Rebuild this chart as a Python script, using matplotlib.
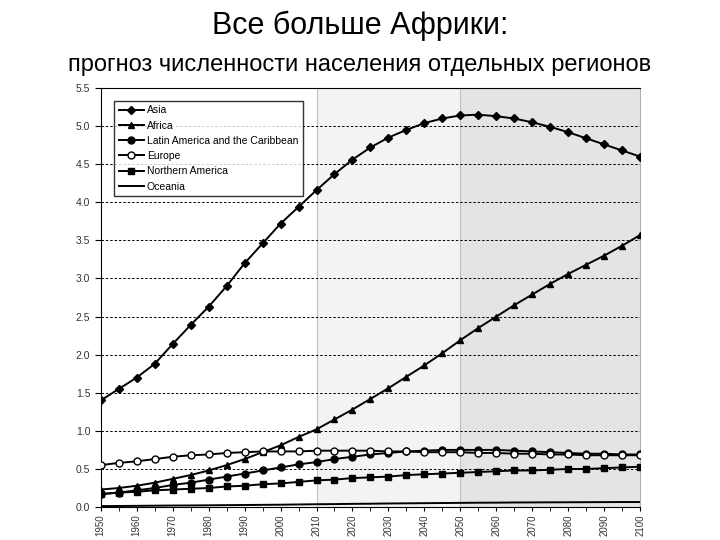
import numpy as np
import matplotlib
matplotlib.use("Agg")
import matplotlib.pyplot as plt

plt.rcParams["font.family"] = ["Liberation Sans", "DejaVu Sans"]

years = list(range(1950, 2101, 5))

asia = [1.40, 1.55, 1.70, 1.88, 2.14, 2.39, 2.63, 2.90, 3.20, 3.46, 3.72,
        3.94, 4.16, 4.37, 4.56, 4.72, 4.85, 4.95, 5.04, 5.10, 5.14, 5.15,
        5.13, 5.10, 5.05, 4.99, 4.92, 4.84, 4.76, 4.68, 4.60]
africa = [0.23, 0.25, 0.28, 0.32, 0.37, 0.42, 0.48, 0.55, 0.63, 0.72, 0.81,
          0.92, 1.02, 1.15, 1.28, 1.42, 1.56, 1.71, 1.86, 2.02, 2.19, 2.35,
          2.50, 2.65, 2.79, 2.93, 3.06, 3.18, 3.30, 3.43, 3.57]
latin = [0.17, 0.19, 0.22, 0.25, 0.29, 0.32, 0.36, 0.40, 0.44, 0.48, 0.52,
         0.56, 0.59, 0.63, 0.66, 0.69, 0.71, 0.73, 0.74, 0.75, 0.75, 0.75,
         0.75, 0.74, 0.73, 0.72, 0.71, 0.70, 0.70, 0.69, 0.69]
europe = [0.55, 0.58, 0.60, 0.63, 0.66, 0.68, 0.69, 0.71, 0.72, 0.73, 0.73,
          0.73, 0.74, 0.74, 0.74, 0.74, 0.73, 0.73, 0.72, 0.72, 0.72, 0.71,
          0.71, 0.70, 0.70, 0.69, 0.69, 0.68, 0.68, 0.68, 0.68]
n_america = [0.17, 0.19, 0.20, 0.22, 0.23, 0.24, 0.25, 0.27, 0.28, 0.30, 0.31,
             0.33, 0.35, 0.36, 0.38, 0.39, 0.40, 0.42, 0.43, 0.44, 0.45, 0.46,
             0.47, 0.48, 0.48, 0.49, 0.50, 0.50, 0.51, 0.52, 0.53]
oceania = [0.013, 0.014, 0.016, 0.018, 0.020, 0.021, 0.023, 0.025, 0.027, 0.029,
           0.031, 0.034, 0.037, 0.039, 0.042, 0.044, 0.047, 0.049, 0.051, 0.053,
           0.055, 0.057, 0.058, 0.060, 0.061, 0.062, 0.063, 0.064, 0.065, 0.066,
           0.066]

fig = plt.figure(figsize=(7.2, 5.4), dpi=100)
ax = fig.add_axes([0.140, 0.061, 0.749, 0.776])

# shaded projection periods
ax.axvspan(2010, 2050, color="#f3f3f3", zorder=0, lw=0)
ax.axvspan(2050, 2100, color="#e4e4e4", zorder=0, lw=0)
for xv in (2010, 2050):
    ax.axvline(xv, color="#c0c0c0", lw=0.8, zorder=0.5)

ax.grid(axis="y", color="black", linestyle=(0, (2.5, 2)), lw=0.7, zorder=1)
ax.set_axisbelow(True)

ax.plot(years, asia, marker="D", markersize=4.5, color="black", lw=1.4,
        zorder=3, label="Asia")
ax.plot(years, africa, marker="^", markersize=5, color="black", lw=1.4,
        zorder=3, label="Africa")
ax.plot(years, latin, marker="o", markersize=5, color="black", lw=1.4,
        zorder=3, label="Latin America and the Caribbean")
ax.plot(years, europe, marker="o", markersize=5, markerfacecolor="white",
        color="black", lw=1.4, zorder=3, label="Europe")
ax.plot(years, n_america, marker="s", markersize=4.5, color="black", lw=1.4,
        zorder=3, label="Northern America")
ax.plot(years, oceania, color="black", lw=1.4, zorder=3, label="Oceania")

ax.set_xlim(1950, 2100)
ax.set_ylim(0, 5.5)
ax.set_yticks(np.arange(0, 5.51, 0.5))
ax.set_yticklabels([f"{v:.1f}" for v in np.arange(0, 5.51, 0.5)])
ax.set_xticks(range(1950, 2101, 10))
ax.set_xticks(range(1955, 2100, 10), minor=True)
ax.tick_params(axis="x", which="both", rotation=90, labelsize=7,
               labelcolor="#333333", length=3, pad=2, direction="out")
ax.tick_params(axis="y", labelsize=7.5, labelcolor="#333333", length=4)

for side in ("left", "bottom", "top"):
    ax.spines[side].set_color("black")
ax.spines["right"].set_color("#b0b0b0")

leg = ax.legend(loc="upper left", bbox_to_anchor=(0.015, 0.982), fontsize=7.5,
                frameon=True, fancybox=False, edgecolor="black",
                handlelength=2.4, borderpad=0.45, labelspacing=0.5,
                handletextpad=0.3)
leg.get_frame().set_linewidth(1.0)
leg.set_zorder(5)

fig.text(0.5, 0.953, "Все больше Африки:", ha="center", va="center", fontsize=22)
fig.text(0.5, 0.880, "прогноз численности населения отдельных регионов",
         ha="center", va="center", fontsize=17)

fig.savefig("out.png", dpi=100, facecolor="white")
